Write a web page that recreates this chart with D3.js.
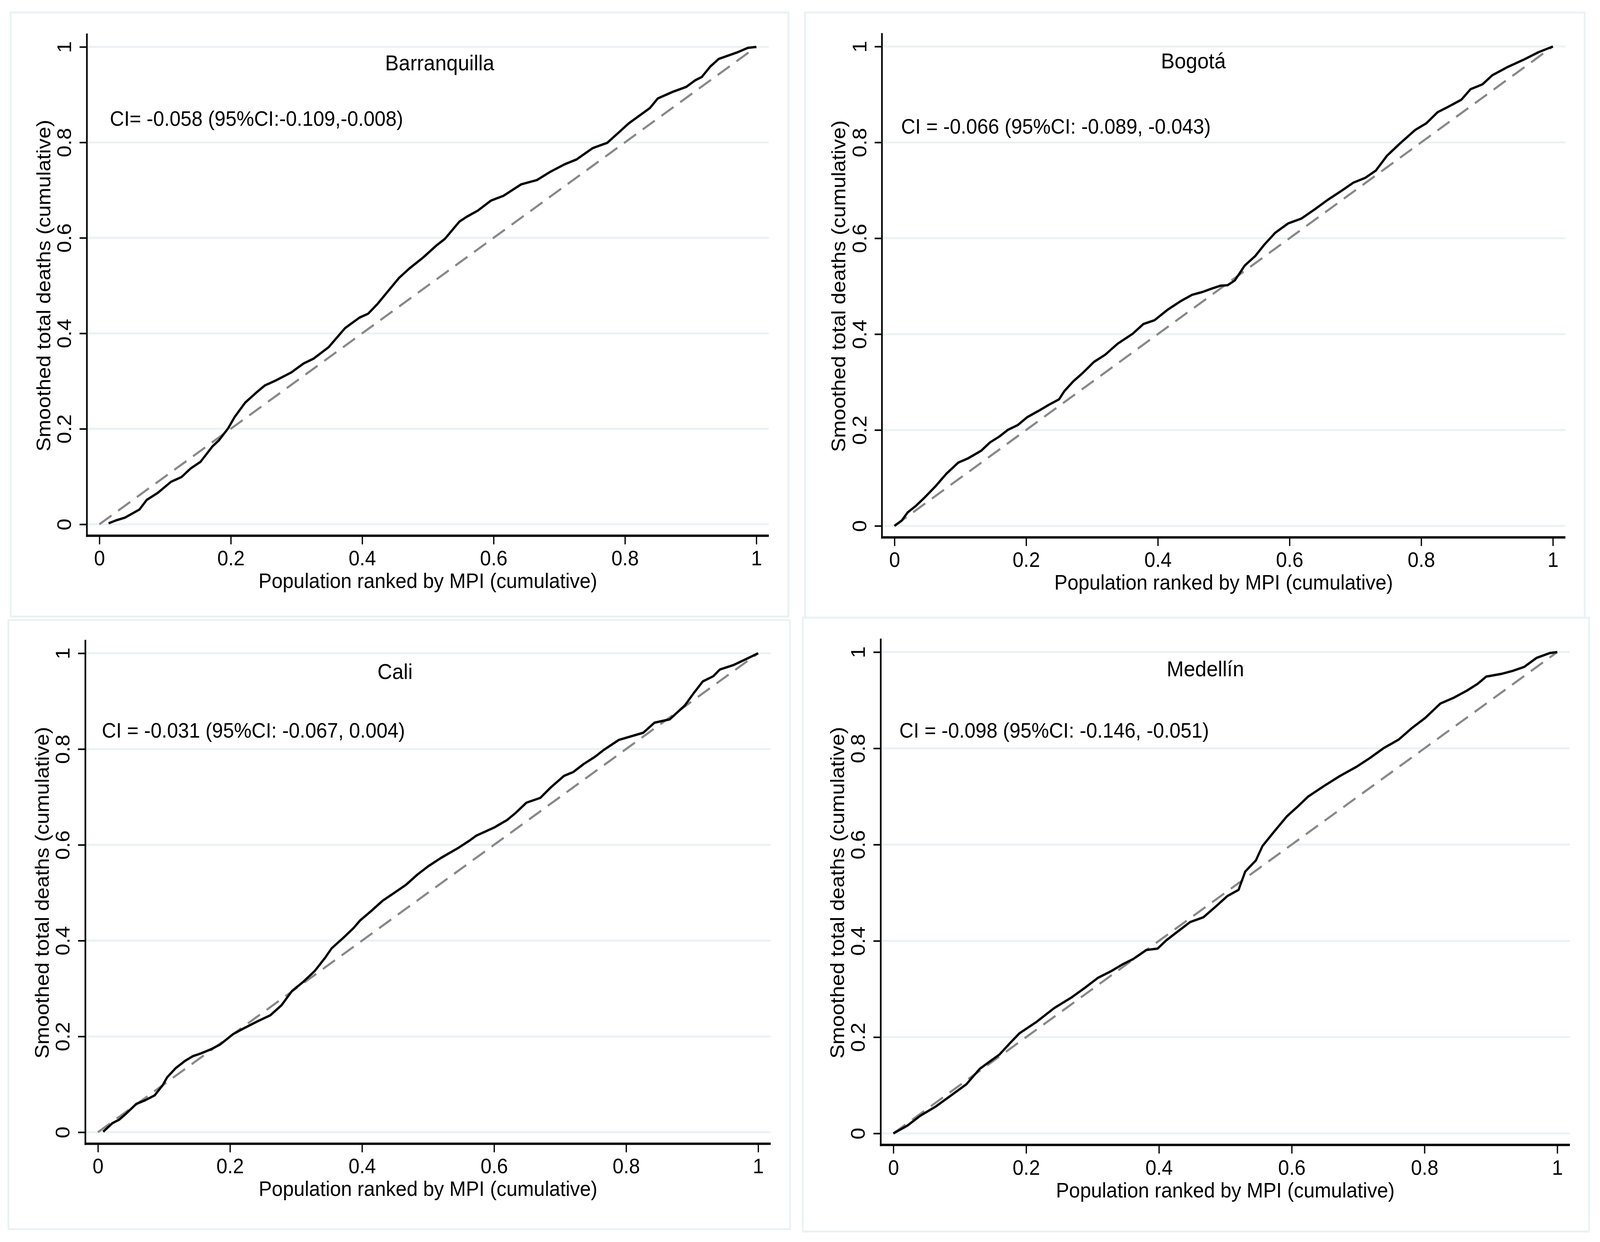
<!DOCTYPE html>
<html>
<head>
<meta charset="utf-8">
<script src="https://cdn.jsdelivr.net/npm/d3@7"></script>
<style>
  html, body { margin: 0; padding: 0; width: 100%; height: 100%; overflow: hidden; background: #fff; }
  svg { display: block; width: 100vw; height: 100vh; }
  text { font-family: "Liberation Sans", Arial, Helvetica, sans-serif; fill: #000; }
</style>
</head>
<body>
<script>
// city names and concentration index labels
const cities = ["Barranquilla", "Bogotá", "Cali", "Medellín"];
const ciLabels = [
    "CI= -0.058 (95%CI:-0.109,-0.008)",
    "CI = -0.066 (95%CI: -0.089, -0.043)",
    "CI = -0.031 (95%CI: -0.067, 0.004)",
    "CI = -0.098 (95%CI: -0.146, -0.051)"
];
const tickValues = [0, 0.2, 0.4, 0.6, 0.8, 1];
const tickLabels = ["0", "0.2", "0.4", "0.6", "0.8", "1"];
const xTitle = "Population ranked by MPI (cumulative)";
const yTitle = "Smoothed total deaths (cumulative)";

// line of equality
const equalityX = [0, 1];
const equalityY = [0, 1];

// concentration curves
const barranquillaX = [0.014,0.025,0.039,0.061,0.072,0.089,0.109,0.125,0.139,0.154,0.172,0.182,0.196,0.206,0.222,0.239,0.252,0.268,0.292,0.311,0.326,0.349,0.374,0.396,0.409,0.423,0.456,0.472,0.493,0.513,0.526,0.548,0.559,0.576,0.596,0.615,0.642,0.666,0.686,0.708,0.726,0.751,0.773,0.786,0.806,0.82,0.838,0.85,0.873,0.893,0.907,0.917,0.93,0.943,0.97,0.987,1];
const barranquillaY = [0.002,0.008,0.014,0.031,0.051,0.066,0.089,0.099,0.117,0.131,0.163,0.176,0.201,0.225,0.255,0.276,0.291,0.301,0.318,0.337,0.347,0.371,0.411,0.433,0.441,0.461,0.516,0.536,0.559,0.584,0.598,0.634,0.644,0.657,0.678,0.688,0.712,0.721,0.738,0.754,0.764,0.788,0.799,0.815,0.84,0.854,0.872,0.892,0.906,0.916,0.93,0.937,0.959,0.975,0.988,0.998,1];

const bogotaX = [0,0.011,0.02,0.032,0.045,0.062,0.079,0.097,0.112,0.132,0.145,0.159,0.172,0.187,0.202,0.219,0.235,0.25,0.258,0.272,0.286,0.303,0.32,0.339,0.362,0.378,0.395,0.415,0.435,0.452,0.468,0.482,0.495,0.506,0.517,0.532,0.548,0.562,0.578,0.598,0.618,0.638,0.658,0.678,0.697,0.715,0.731,0.748,0.768,0.791,0.808,0.825,0.838,0.861,0.875,0.893,0.908,0.931,0.955,0.978,1];
const bogotaY = [0,0.011,0.028,0.041,0.058,0.082,0.109,0.132,0.141,0.157,0.174,0.186,0.2,0.21,0.227,0.24,0.253,0.264,0.281,0.302,0.319,0.342,0.357,0.38,0.401,0.421,0.429,0.451,0.469,0.482,0.488,0.495,0.501,0.502,0.512,0.543,0.563,0.587,0.611,0.631,0.641,0.66,0.68,0.698,0.716,0.726,0.741,0.772,0.798,0.826,0.84,0.863,0.872,0.889,0.911,0.921,0.94,0.957,0.972,0.988,1];

const caliX = [0.008,0.022,0.032,0.042,0.058,0.072,0.086,0.098,0.105,0.118,0.132,0.144,0.155,0.171,0.185,0.205,0.221,0.241,0.261,0.278,0.294,0.311,0.328,0.344,0.354,0.371,0.387,0.397,0.414,0.431,0.447,0.467,0.484,0.5,0.52,0.544,0.563,0.573,0.6,0.62,0.633,0.649,0.67,0.686,0.706,0.72,0.736,0.753,0.766,0.789,0.826,0.843,0.866,0.889,0.902,0.916,0.932,0.942,0.962,0.982,1];
const caliY = [0.001,0.019,0.026,0.038,0.059,0.067,0.077,0.098,0.115,0.134,0.149,0.159,0.164,0.173,0.183,0.205,0.217,0.231,0.244,0.265,0.295,0.314,0.336,0.364,0.384,0.405,0.426,0.442,0.462,0.483,0.498,0.517,0.538,0.555,0.573,0.592,0.609,0.619,0.636,0.652,0.667,0.688,0.698,0.72,0.744,0.752,0.769,0.784,0.798,0.819,0.834,0.855,0.862,0.891,0.916,0.941,0.952,0.966,0.975,0.988,1];

const medellinX = [0,0.021,0.041,0.064,0.087,0.11,0.13,0.16,0.176,0.19,0.216,0.242,0.269,0.289,0.308,0.328,0.345,0.361,0.381,0.398,0.411,0.427,0.447,0.467,0.487,0.503,0.52,0.53,0.546,0.556,0.573,0.593,0.609,0.625,0.649,0.672,0.698,0.718,0.738,0.761,0.781,0.801,0.824,0.844,0.864,0.88,0.893,0.917,0.933,0.95,0.969,0.989,1];
const medellinY = [0,0.016,0.037,0.056,0.079,0.102,0.134,0.164,0.188,0.208,0.232,0.26,0.283,0.303,0.323,0.337,0.351,0.362,0.381,0.384,0.401,0.418,0.439,0.449,0.473,0.493,0.506,0.544,0.567,0.597,0.626,0.659,0.679,0.7,0.722,0.742,0.762,0.78,0.8,0.818,0.842,0.863,0.893,0.905,0.92,0.934,0.949,0.955,0.961,0.969,0.988,0.998,1];

const curvesX = [barranquillaX, bogotaX, caliX, medellinX];
const curvesY = [barranquillaY, bogotaY, caliY, medellinY];

// layout of the four graphs (pixels): frame box, plot range, label spots
const panels = [
    {frame: [29, 32, 2158, 1578],   px: [272, 2070],  py: [1342, 120],  title: [0.518, 0.951], ci: [0.016, 0.835]},
    {frame: [2203, 32, 4337, 1581], px: [2448, 4250], py: [1346, 119],  title: [0.454, 0.954], ci: [0.010, 0.818]},
    {frame: [23, 1587, 2162, 3146], px: [268, 2075],  py: [2898, 1672], title: [0.450, 0.946], ci: [0.006, 0.824]},
    {frame: [2197, 1581, 4349, 3152], px: [2445, 4262], py: [2901, 1669], title: [0.470, 0.950], ci: [0.009, 0.822]}
];

const gridColor = "rgb(234,242,243)";
const fontSize = 54;

// whole picture is drawn in 4379 x 3179 units and stretched to the window
let svg = d3.select('body').append('svg')
    .attr('viewBox', '0 0 4379 3179')
    .attr('preserveAspectRatio', 'none');

panels.forEach(function (p, i) {
    let g = svg.append('g');

    // panel frame
    g.append('rect')
        .attr('x', p.frame[0])
        .attr('y', p.frame[1])
        .attr('width', p.frame[2] - p.frame[0])
        .attr('height', p.frame[3] - p.frame[1])
        .attr('fill', '#fff')
        .attr('stroke', gridColor)
        .attr('stroke-width', 5);

    let x = d3.scaleLinear().domain([0, 1]).range(p.px);
    let y = d3.scaleLinear().domain([0, 1]).range(p.py);

    // axis lines reach a bit past 0 and 1
    let axLeft = x(-0.019), axRight = x(1.019);
    let axBottom = y(-0.024), axTop = y(1.028);

    // grid
    g.selectAll('.grid')
        .data(tickValues)
        .enter().append('line')
        .attr('x1', axLeft)
        .attr('x2', axRight)
        .attr('y1', d => y(d))
        .attr('y2', d => y(d))
        .attr('stroke', gridColor)
        .attr('stroke-width', 5);

    // line of equality
    let line = d3.line().x(d => x(d[0])).y(d => y(d[1]));
    g.append('path')
        .attr('d', line(d3.zip(equalityX, equalityY)))
        .attr('fill', 'none')
        .attr('stroke', '#888')
        .attr('stroke-width', 5.5)
        .attr('stroke-dasharray', '40,22');

    // concentration curve
    g.append('path')
        .attr('d', line(d3.zip(curvesX[i], curvesY[i])))
        .attr('fill', 'none')
        .attr('stroke', '#000')
        .attr('stroke-width', 6)
        .attr('stroke-linejoin', 'round');

    // y axis
    let yAxis = g.append('g')
        .attr('transform', 'translate(' + axLeft + ',0)')
        .call(d3.axisLeft(y).tickValues(tickValues).tickSize(20).tickSizeOuter(0)
            .tickFormat((d, k) => tickLabels[k]));
    yAxis.select('.domain').remove();
    yAxis.selectAll('line').attr('stroke', '#000').attr('stroke-width', 4);
    yAxis.selectAll('text')
        .attr('x', null).attr('dy', null)
        .attr('text-anchor', 'middle')
        .attr('font-size', fontSize)
        .attr('transform', 'translate(-43,0) rotate(-90)');

    // x axis
    let xAxis = g.append('g')
        .attr('transform', 'translate(0,' + axBottom + ')')
        .call(d3.axisBottom(x).tickValues(tickValues).tickSize(22).tickSizeOuter(0)
            .tickFormat((d, k) => tickLabels[k]));
    xAxis.select('.domain').remove();
    xAxis.selectAll('line').attr('stroke', '#000').attr('stroke-width', 3.5);
    xAxis.selectAll('text')
        .attr('dy', null)
        .attr('y', 76)
        .attr('font-size', fontSize);
    xAxis.attr('font-family', null);
    yAxis.attr('font-family', null);

    // axis lines
    g.append('line')
        .attr('x1', axLeft).attr('x2', axLeft)
        .attr('y1', axTop).attr('y2', axBottom + 3)
        .attr('stroke', '#000').attr('stroke-width', 4.5);
    g.append('line')
        .attr('x1', axLeft - 2).attr('x2', axRight)
        .attr('y1', axBottom).attr('y2', axBottom)
        .attr('stroke', '#000').attr('stroke-width', 6);

    // axis titles
    g.append('text')
        .attr('x', x(0.5))
        .attr('y', axBottom + 134)
        .attr('text-anchor', 'middle')
        .attr('font-size', fontSize)
        .text(xTitle);
    g.append('text')
        .attr('transform', 'translate(' + (axLeft - 100) + ',' + y(0.5) + ') rotate(-90)')
        .attr('text-anchor', 'middle')
        .attr('font-size', fontSize)
        .text(yTitle);

    // city title and CI text
    g.append('text')
        .attr('x', x(p.title[0]))
        .attr('y', y(p.title[1]))
        .attr('text-anchor', 'middle')
        .attr('font-size', 56)
        .text(cities[i]);
    g.append('text')
        .attr('x', x(p.ci[0]))
        .attr('y', y(p.ci[1]))
        .attr('font-size', fontSize)
        .text(ciLabels[i]);
});
</script>
</body>
</html>
